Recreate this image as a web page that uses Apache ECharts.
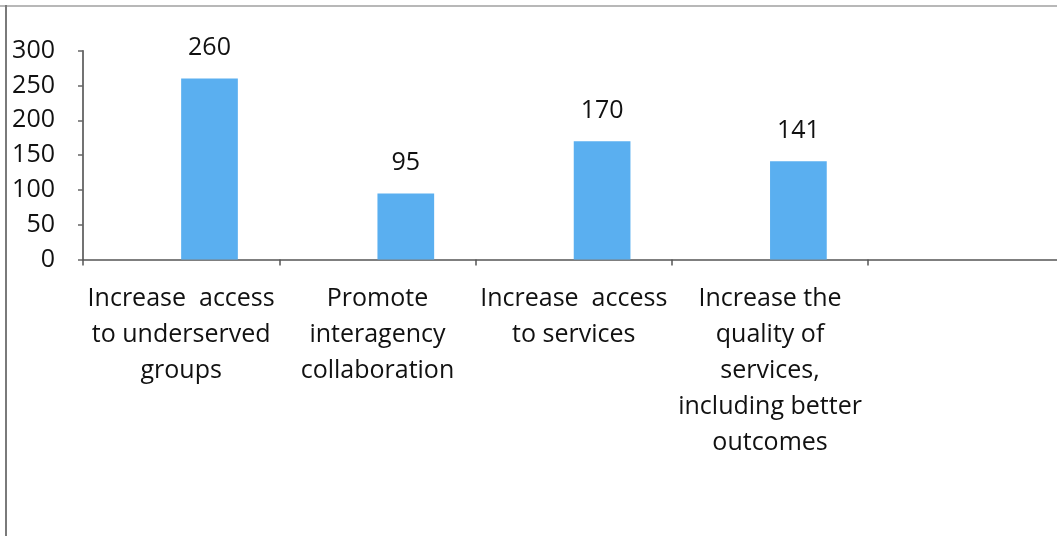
<!DOCTYPE html>
<html>
<head>
<meta charset="utf-8">
<script src="https://cdn.jsdelivr.net/npm/echarts@6/dist/echarts.min.js"></script>
<style>html,body{margin:0;padding:0;background:#fff}#c{width:1057px;height:536px}</style>
</head>
<body>
<div id="c"></div>
<script>
const categories = [
  'Increase  access\nto underserved\ngroups',
  'Promote\ninteragency\ncollaboration',
  'Increase  access\nto services',
  'Increase the\nquality of\nservices,\nincluding better\noutcomes',
  ''
];
const values = [260, 95, 170, 141, null];
const emptySeries = [null, null, null, null, null];
const yMin = 0, yMax = 300, yInterval = 50;

const FONT = '"Open Sans"';
const chart = echarts.init(document.getElementById('c'), null, {renderer: 'canvas'});
chart.setOption({
  animation: false,
  backgroundColor: '#fff',
  grid: {left: 83, top: 50.7, width: 981.5, height: 208.8, outerBoundsMode: 'none'},
  xAxis: {
    type: 'category',
    data: categories,
    boundaryGap: true,
    axisLine: {lineStyle: {color: '#555', width: 1.5}},
    axisTick: {show: true, length: 6, lineStyle: {color: '#555', width: 1.5}},
    axisLabel: {interval: 0, margin: 21, color: '#111', fontFamily: FONT, fontSize: 25, lineHeight: 36, align: 'center'}
  },
  yAxis: {
    type: 'value',
    min: yMin, max: yMax, interval: yInterval,
    splitLine: {show: false},
    axisLine: {show: true, lineStyle: {color: '#444', width: 1.5}},
    axisTick: {show: true, length: 5, lineStyle: {color: '#666', width: 1.5}},
    axisLabel: {margin: 28, color: '#111', fontFamily: FONT, fontSize: 25}
  },
  series: [
    {type: 'bar', data: emptySeries, barWidth: 56.7, barGap: '0%'},
    {
      type: 'bar', data: values, barWidth: 56.7, barGap: '0%',
      itemStyle: {color: '#5aaff0'},
      label: {show: true, position: 'top', distance: 18, color: '#111', fontFamily: FONT, fontSize: 25}
    }
  ],
  graphic: [
    {type: 'line', shape: {x1: 0, y1: 6, x2: 1057, y2: 6}, style: {stroke: '#b8b8b8', lineWidth: 2}},
    {type: 'line', shape: {x1: 6, y1: 5, x2: 6, y2: 536}, style: {stroke: '#7a7a7a', lineWidth: 2}}
  ]
});
</script>
</body>
</html>
